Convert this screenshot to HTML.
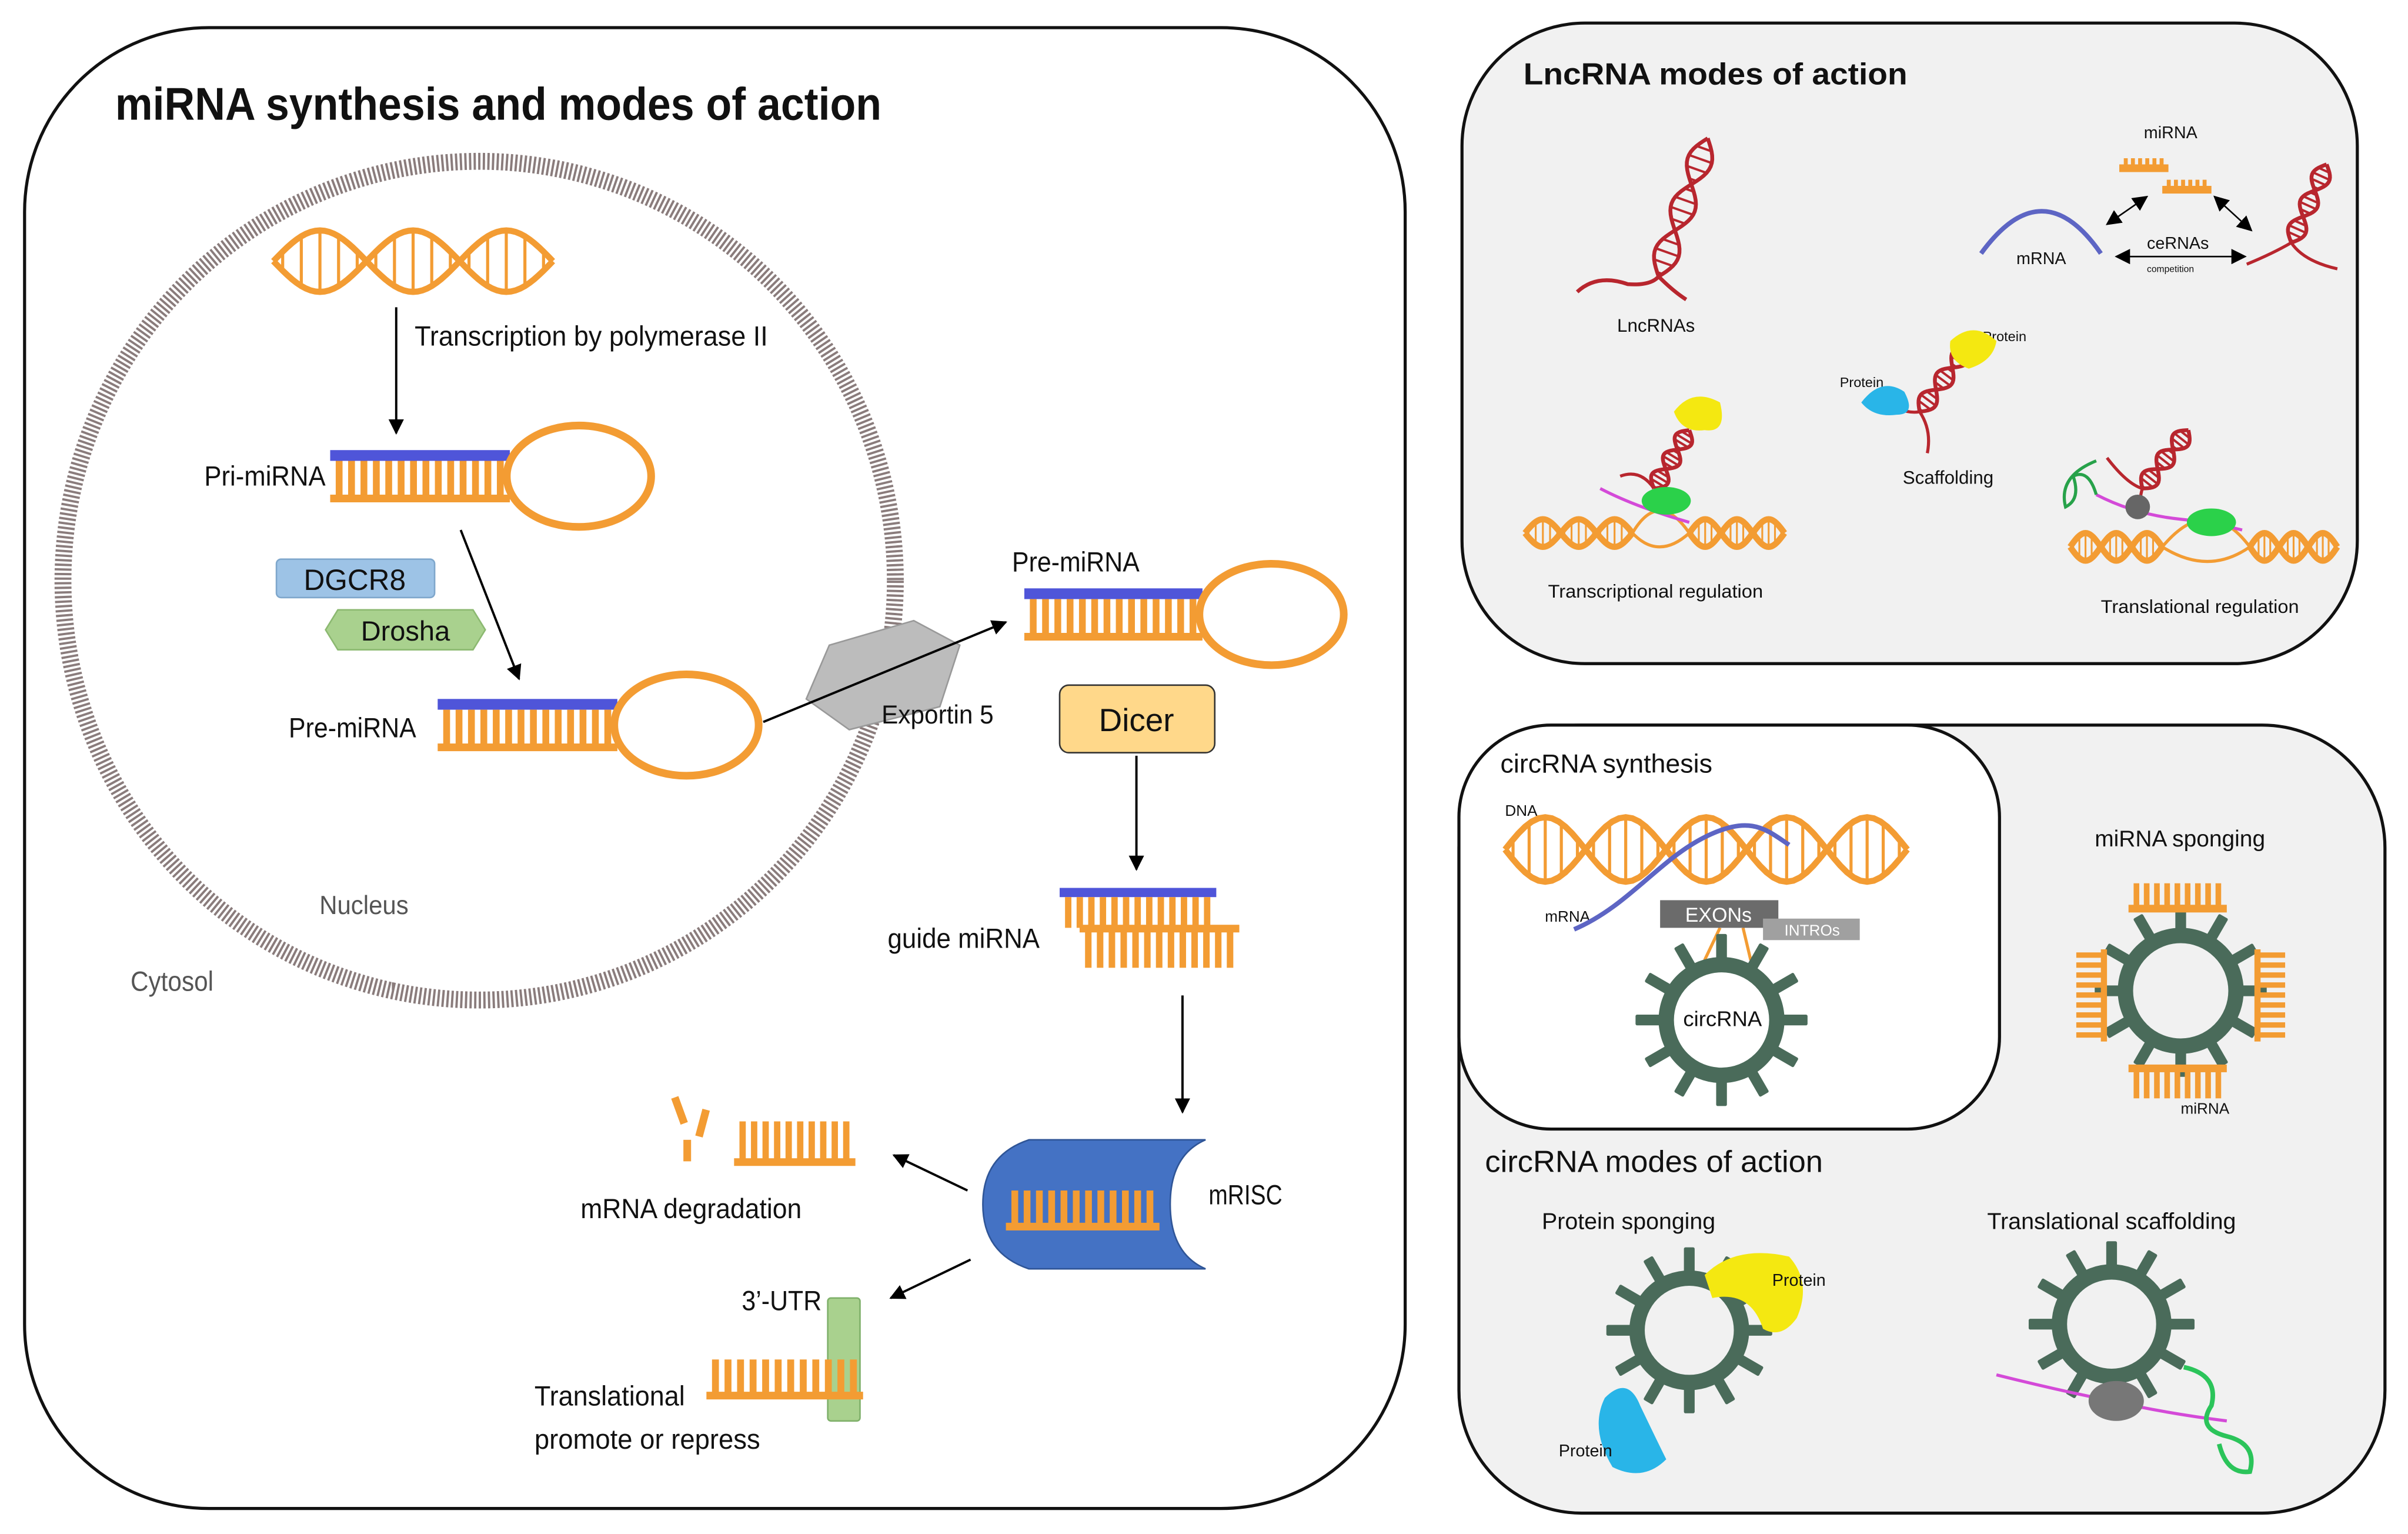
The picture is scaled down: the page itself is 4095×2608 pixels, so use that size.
<!DOCTYPE html>
<html><head><meta charset="utf-8"><style>
html,body{margin:0;padding:0;background:#fff;}
svg{display:block;}
text{font-family:"Liberation Sans",sans-serif;fill:#111;}
</style></head><body>
<svg id="s" width="4095" height="2608" viewBox="0 0 1568 998.6" xmlns="http://www.w3.org/2000/svg">
<defs>
<marker id="ar" markerWidth="10" markerHeight="10" refX="9" refY="5" orient="auto" markerUnits="userSpaceOnUse"><path d="M0,0 L10,5 L0,10 z" fill="#000"/></marker>
<marker id="al" markerWidth="10" markerHeight="10" refX="1" refY="5" orient="auto" markerUnits="userSpaceOnUse"><path d="M10,0 L0,5 L10,10 z" fill="#000"/></marker>
</defs>
<rect x="0" y="0" width="1568" height="999" fill="#fff"/>
<rect x="16" y="18" width="899" height="964" rx="120" fill="#fff" stroke="#111" stroke-width="2"/>
<text x="75" y="78" font-size="30" font-weight="bold" textLength="499" lengthAdjust="spacingAndGlyphs">miRNA synthesis and modes of action</text>
<ellipse cx="312" cy="378" rx="271" ry="273" fill="none" stroke="#8a7c7c" stroke-width="11" stroke-dasharray="1.5 1.5"/>
<text x="208" y="595" font-size="17" style="fill:#555" textLength="58" lengthAdjust="spacingAndGlyphs">Nucleus</text>
<text x="85" y="645" font-size="18" style="fill:#555" textLength="54" lengthAdjust="spacingAndGlyphs">Cytosol</text>
<text x="270" y="225" font-size="18" textLength="230" lengthAdjust="spacingAndGlyphs">Transcription by polymerase II</text>
<line x1="258" y1="200" x2="258" y2="282" stroke="#000" stroke-width="1.5" marker-end="url(#ar)"/>
<text x="133" y="316" font-size="18" textLength="79" lengthAdjust="spacingAndGlyphs">Pri-miRNA</text>
<rect x="180" y="364" width="103" height="25" rx="3" fill="#9dc3e6" stroke="#7fa7cc"/>
<text x="231" y="384" font-size="19" text-anchor="middle">DGCR8</text>
<polygon points="220,397 308,397 316,410 308,423 220,423 212,410" fill="#a9d18e" stroke="#8cb971"/>
<text x="264" y="417" font-size="18" text-anchor="middle">Drosha</text>
<line x1="300" y1="345" x2="338" y2="442" stroke="#000" stroke-width="1.5" marker-end="url(#ar)"/>
<text x="188" y="480" font-size="18" textLength="83" lengthAdjust="spacingAndGlyphs">Pre-miRNA</text>
<polygon points="540,420 595,404 625,420 612,460 553,475 525,455" fill="#bcbcbc" stroke="#999"/>
<line x1="497" y1="470" x2="655" y2="405" stroke="#000" stroke-width="1.5" marker-end="url(#ar)"/>
<text x="574" y="471" font-size="17" textLength="73" lengthAdjust="spacingAndGlyphs">Exportin 5</text>
<text x="659" y="372" font-size="18" textLength="83" lengthAdjust="spacingAndGlyphs">Pre-miRNA</text>
<rect x="690" y="446" width="101" height="44" rx="6" fill="#ffd88a" stroke="#333"/>
<text x="740" y="476" font-size="21" text-anchor="middle">Dicer</text>
<line x1="740" y1="492" x2="740" y2="566" stroke="#000" stroke-width="1.5" marker-end="url(#ar)"/>
<text x="578" y="617" font-size="18" textLength="99" lengthAdjust="spacingAndGlyphs">guide miRNA</text>
<line x1="770" y1="648" x2="770" y2="724" stroke="#000" stroke-width="1.5" marker-end="url(#ar)"/>
<path d="M670,742 L785,742 Q762,752 762,784 Q762,816 785,826 L670,826 Q640,816 640,784 Q640,752 670,742 z" fill="#4472c4" stroke="#2f5597"/>
<text x="787" y="784" font-size="18" textLength="48" lengthAdjust="spacingAndGlyphs">mRISC</text>
<line x1="630" y1="775" x2="582" y2="752" stroke="#000" stroke-width="1.5" marker-end="url(#ar)"/>
<line x1="632" y1="820" x2="580" y2="845" stroke="#000" stroke-width="1.5" marker-end="url(#ar)"/>
<text x="378" y="793" font-size="18" textLength="144" lengthAdjust="spacingAndGlyphs">mRNA degradation</text>
<text x="483" y="853" font-size="18" textLength="52" lengthAdjust="spacingAndGlyphs">3’-UTR</text>
<rect x="539" y="845" width="21" height="80" rx="2" fill="#a9d18e" stroke="#7fb06a"/>
<text x="348" y="915" font-size="18" textLength="98" lengthAdjust="spacingAndGlyphs">Translational</text>
<text x="348" y="943" font-size="18" textLength="147" lengthAdjust="spacingAndGlyphs">promote or repress</text>

<rect x="952" y="15" width="583" height="417" rx="80" fill="#f1f1f1" stroke="#111" stroke-width="2"/>
<text x="992" y="55" font-size="20" font-weight="bold" textLength="250" lengthAdjust="spacingAndGlyphs">LncRNA modes of action</text>
<text x="1053" y="216" font-size="12">LncRNAs</text>
<text x="1396" y="90" font-size="11">miRNA</text>
<text x="1398" y="162" font-size="11">ceRNAs</text>
<text x="1398" y="177" font-size="6">competition</text>
<text x="1313" y="172" font-size="11">mRNA</text>
<text x="1291" y="222" font-size="9">Protein</text>
<text x="1198" y="252" font-size="9">Protein</text>
<text x="1239" y="315" font-size="12">Scaffolding</text>
<text x="1008" y="389" font-size="12" textLength="140" lengthAdjust="spacingAndGlyphs">Transcriptional regulation</text>
<text x="1368" y="399" font-size="12" textLength="129" lengthAdjust="spacingAndGlyphs">Translational regulation</text>
<line x1="1372" y1="146" x2="1398" y2="128" stroke="#000" marker-end="url(#ar)" marker-start="url(#al)"/>
<line x1="1442" y1="128" x2="1466" y2="150" stroke="#000" marker-end="url(#ar)" marker-start="url(#al)"/>
<line x1="1378" y1="167" x2="1462" y2="167" stroke="#000" marker-end="url(#ar)" marker-start="url(#al)"/>

<rect x="950" y="472" width="603" height="513" rx="80" fill="#f1f1f1" stroke="#111" stroke-width="2"/>
<rect x="950" y="472" width="352" height="263" rx="60" fill="#fff" stroke="#111" stroke-width="2"/>
<text x="977" y="503" font-size="17" textLength="138" lengthAdjust="spacingAndGlyphs">circRNA synthesis</text>
<text x="980" y="531" font-size="10">DNA</text>
<text x="1006" y="600" font-size="10">mRNA</text>
<text x="1364" y="551" font-size="15" textLength="111" lengthAdjust="spacingAndGlyphs">miRNA sponging</text>
<text x="1420" y="725" font-size="10">miRNA</text>
<text x="967" y="763" font-size="20" textLength="220" lengthAdjust="spacingAndGlyphs">circRNA modes of action</text>
<text x="1004" y="800" font-size="15" textLength="113" lengthAdjust="spacingAndGlyphs">Protein sponging</text>
<text x="1294" y="800" font-size="15" textLength="162" lengthAdjust="spacingAndGlyphs">Translational scaffolding</text>
<g id="dyn"></g>
<rect x="1081" y="586" width="77" height="18" fill="#6b6b6b"/>
<text x="1119" y="600" font-size="13" text-anchor="middle" style="fill:#fff">EXONs</text>
<rect x="1148" y="598" width="63" height="14" fill="#a0a0a0"/>
<text x="1180" y="609" font-size="10" text-anchor="middle" style="fill:#fff">INTROs</text>
<text x="1096" y="668" font-size="14">circRNA</text>
<text x="1154" y="837" font-size="11">Protein</text>
<text x="1015" y="948" font-size="11">Protein</text>
</svg>
<script>
var NS="http://www.w3.org/2000/svg",g=document.getElementById("dyn"),o="#f39c33";
function el(t,a,p){var e=document.createElementNS(NS,t);for(var k in a)e.setAttribute(k,a[k]);(p||g).appendChild(e);return e;}
function teeth(x,y,w,h,n,base,up){
 var sp=w/n;for(var i=0;i<n;i++)el("rect",{x:x+i*sp+sp*0.2,y:y,width:sp*0.55,height:h,fill:o});
 if(base)el("rect",{x:x-2,y:up?y-4:y+h-4,width:w+4,height:5,fill:o});}
function stem(x,y,w,loop){el("rect",{x:x,y:y,width:w,height:7,fill:"#4f55d9"});teeth(x+2,y+7,w-4,26,14,true);
 if(loop)el("ellipse",{cx:x+w+45,cy:y+17,rx:47,ry:33,fill:"none",stroke:o,"stroke-width":5});}
stem(215,293,117,true);stem(285,455,117,true);stem(667,383,116,true);
el("rect",{x:690,y:578,width:102,height:6,fill:"#4f55d9"});teeth(692,584,98,20,13,false);teeth(705,606,100,24,13,true,true);
teeth(657,775,96,25,12,true);
teeth(480,730,75,28,10,true);
el("rect",{x:440,y:714,width:5,height:18,fill:o,transform:"rotate(-20 442 723)"});el("rect",{x:455,y:722,width:5,height:18,fill:o,transform:"rotate(15 457 731)"});el("rect",{x:445,y:742,width:5,height:14,fill:o});
teeth(462,885,98,25,12,true);
function helix(x,y,w,h,col,n,sw){var d1="",d2="";for(var i=0;i<=60;i++){var t=i/60,xx=x+t*w,s=Math.sin(t*n*Math.PI*2);d1+=(i?"L":"M")+xx+","+(y+h/2+s*h/2);d2+=(i?"L":"M")+xx+","+(y+h/2-s*h/2);}
 for(var j=0;j<n*10;j++){var t2=(j+0.5)/(n*10),xx2=x+t2*w,s2=Math.sin(t2*n*Math.PI*2);el("line",{x1:xx2,y1:y+h/2+s2*h/2,x2:xx2,y2:y+h/2-s2*h/2,stroke:col,"stroke-width":sw||1.5});}
 el("path",{d:d1,fill:"none",stroke:col,"stroke-width":4});el("path",{d:d2,fill:"none",stroke:col,"stroke-width":4});}
helix(178,150,182,40,o,1.5,2);
helix(980,532,262,42,o,2.5,2);
el("path",{d:"M1025,605 C1060,590 1080,560 1110,545 S1150,540 1165,550",fill:"none",stroke:"#5d65c4","stroke-width":3});
el("line",{x1:1120,y1:604,x2:1110,y2:625,stroke:o,"stroke-width":2});el("line",{x1:1135,y1:604,x2:1140,y2:625,stroke:o,"stroke-width":2});
helix(993,338,70,18,o,1.5,1.2);helix(1100,338,62,18,o,1.5,1.2);
el("path",{d:"M1063,347 Q1080,318 1100,347 M1063,347 Q1080,365 1100,347",fill:"none",stroke:o,"stroke-width":2});
helix(1348,347,60,18,o,1.5,1.2);helix(1465,347,57,18,o,1.5,1.2);
el("path",{d:"M1408,356 Q1438,320 1465,356 M1408,356 Q1438,375 1465,356",fill:"none",stroke:o,"stroke-width":2});
function redh(x1,y1,x2,y2,w){var dx=x2-x1,dy=y2-y1,L=Math.hypot(dx,dy),nx=-dy/L,ny=dx/L,a="",b="";
 for(var i=0;i<=40;i++){var t=i/40,s=Math.sin(t*Math.PI*3)*w,px=x1+dx*t,py=y1+dy*t;a+=(i?"L":"M")+(px+nx*s)+","+(py+ny*s);b+=(i?"L":"M")+(px-nx*s)+","+(py-ny*s);
 if(i%3==1)el("line",{x1:px+nx*s,y1:py+ny*s,x2:px-nx*s,y2:py-ny*s,stroke:"#b8262e","stroke-width":1.5});}
 el("path",{d:a,fill:"none",stroke:"#b8262e","stroke-width":2.5});el("path",{d:b,fill:"none",stroke:"#b8262e","stroke-width":2.5});}
redh(1080,180,1112,90,8);
el("path",{d:"M1027,190 Q1040,178 1060,185 Q1075,186 1080,180 Q1090,190 1098,195",fill:"none",stroke:"#b8262e","stroke-width":2.5});
redh(1492,158,1515,107,6);el("path",{d:"M1463,172 Q1480,165 1492,158 Q1500,170 1522,175",fill:"none",stroke:"#b8262e","stroke-width":2});
el("path",{d:"M1290,165 Q1330,110 1368,165",fill:"none",stroke:"#5d65c4","stroke-width":3});
teeth(1382,103,28,8,6,true);teeth(1410,117,28,8,6,true);
redh(1250,268,1282,225,6);el("path",{d:"M1225,260 Q1240,270 1250,268 Q1258,280 1255,295",fill:"none",stroke:"#b8262e","stroke-width":2});
el("path",{d:"M1212,262 Q1225,245 1240,255 Q1248,270 1235,270 Q1220,272 1212,262z",fill:"#29b5e8"});
el("path",{d:"M1270,222 Q1285,208 1300,222 Q1298,235 1282,240 Q1268,235 1270,222z",fill:"#f4e811"});
redh(1077,318,1100,280,6);el("path",{d:"M1055,310 Q1068,305 1077,318",fill:"none",stroke:"#b8262e","stroke-width":2});
el("path",{d:"M1090,268 Q1102,252 1120,262 Q1125,282 1110,280 Q1095,282 1090,268z",fill:"#f4e811"});
el("path",{d:"M1042,318 Q1065,330 1100,340",fill:"none",stroke:"#d44ad8","stroke-width":2});
el("ellipse",{cx:1085,cy:326,rx:16,ry:9,fill:"#2bd14a"});
redh(1395,318,1425,280,6);el("path",{d:"M1372,298 Q1385,315 1395,318 Q1393,325 1394,330",fill:"none",stroke:"#b8262e","stroke-width":2});
el("path",{d:"M1365,322 Q1390,335 1420,338 Q1440,340 1460,345",fill:"none",stroke:"#d44ad8","stroke-width":2});
el("path",{d:"M1365,300 Q1340,310 1345,330 Q1355,325 1350,310 Q1360,305 1365,322",fill:"none",stroke:"#27a24a","stroke-width":2});
el("circle",{cx:1392,cy:330,r:8,fill:"#666"});el("ellipse",{cx:1440,cy:340,rx:16,ry:9,fill:"#2bd14a"});
function gear(cx,cy,r){var c="#4a6b5a";for(var i=0;i<12;i++){var a=i*30;el("rect",{x:cx-3.5,y:cy-r-20,width:7,height:20,rx:1,fill:c,transform:"rotate("+a+" "+cx+" "+cy+")"});}
 el("circle",{cx:cx,cy:cy,r:r,fill:"none",stroke:c,"stroke-width":10});}
gear(1121,664,36);gear(1420,645,36);gear(1100,866,34);gear(1375,862,34);
teeth(1388,575,60,18,9,true,false);teeth(1388,697,60,18,9,true,true);
for(var i=0;i<9;i++){el("rect",{x:1352,y:620+i*6.5,width:18,height:3.5,fill:o});el("rect",{x:1470,y:620+i*6.5,width:18,height:3.5,fill:o});}
el("rect",{x:1368,y:618,width:4,height:60,fill:o});el("rect",{x:1468,y:618,width:4,height:60,fill:o});
el("path",{d:"M1110,830 Q1130,810 1165,818 Q1180,835 1170,858 Q1160,872 1148,865 Q1140,840 1115,845z",fill:"#f4e811"});
el("path",{d:"M1045,910 Q1060,895 1068,915 Q1080,940 1085,950 Q1070,965 1050,955 Q1035,930 1045,910z",fill:"#29b5e8"});
el("path",{d:"M1300,895 Q1340,905 1375,912 Q1410,920 1450,925",fill:"none",stroke:"#d44ad8","stroke-width":2});
el("ellipse",{cx:1378,cy:912,rx:18,ry:13,fill:"#777"});
el("path",{d:"M1422,890 Q1445,895 1440,915 Q1430,930 1450,935 Q1470,940 1465,958 Q1450,960 1445,940",fill:"none",stroke:"#2bc45a","stroke-width":3});
</script>
</body></html>
